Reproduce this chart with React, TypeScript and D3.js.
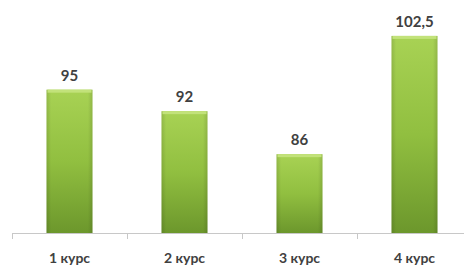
import React, { useEffect, useRef } from 'react'
import * as d3 from 'd3'

const categories = ['1 курс', '2 курс', '3 курс', '4 курс']
const values = [95, 92, 86, 102.5]
const valueLabels = ['95', '92', '86', '102,5']
const yDomain: [number, number] = [75, 105]

const App: React.FC = () => {
  const svgRef = useRef<SVGSVGElement>(null)

  useEffect(() => {
    if (!svgRef.current) return
    const width = 464
    const height = 269
    const axisY = 233

    const svg = d3.select(svgRef.current)
    svg.selectAll('*').remove()

    const x = d3.scaleBand<string>().domain(categories).range([12, 472]).paddingInner(0.6).paddingOuter(0.3)
    const y = d3.scaleLinear().domain(yDomain).range([axisY, 18])

    // Bar gradient
    const defs = svg.append('defs')
    const grad = defs.append('linearGradient').attr('id', 'barGrad').attr('x1', 0).attr('y1', 0).attr('x2', 0).attr('y2', 1)
    grad.append('stop').attr('offset', '0%').attr('stop-color', '#a8d254')
    grad.append('stop').attr('offset', '50%').attr('stop-color', '#91bf40')
    grad.append('stop').attr('offset', '100%').attr('stop-color', '#6c972c')

    const side = defs.append('linearGradient').attr('id', 'sideGrad').attr('x1', 0).attr('y1', 0).attr('x2', 1).attr('y2', 0)
    side.append('stop').attr('offset', '0%').attr('stop-color', '#000').attr('stop-opacity', 0.12)
    side.append('stop').attr('offset', '10%').attr('stop-color', '#000').attr('stop-opacity', 0)
    side.append('stop').attr('offset', '90%').attr('stop-color', '#000').attr('stop-opacity', 0)
    side.append('stop').attr('offset', '100%').attr('stop-color', '#000').attr('stop-opacity', 0.12)

    const bars = svg.append('g')
    bars
      .selectAll('rect.bar')
      .data(values)
      .join('rect')
      .attr('class', 'bar')
      .attr('x', (_, i) => x(categories[i]) ?? 0)
      .attr('y', (d) => y(d))
      .attr('width', x.bandwidth())
      .attr('height', (d) => axisY - y(d))
      .attr('fill', 'url(#barGrad)')

    bars
      .selectAll('rect.side')
      .data(values)
      .join('rect')
      .attr('class', 'side')
      .attr('x', (_, i) => x(categories[i]) ?? 0)
      .attr('y', (d) => y(d))
      .attr('width', x.bandwidth())
      .attr('height', (d) => axisY - y(d))
      .attr('fill', 'url(#sideGrad)')

    // top highlight
    bars
      .selectAll('rect.top')
      .data(values)
      .join('rect')
      .attr('class', 'top')
      .attr('x', (_, i) => (x(categories[i]) ?? 0) + 1)
      .attr('y', (d) => y(d))
      .attr('width', x.bandwidth() - 2)
      .attr('height', 3)
      .attr('fill', '#c2e27a')

    // X axis
    const step = x.step()
    const axis = svg.append('g')
    axis.append('line').attr('x1', 12).attr('x2', width).attr('y1', axisY + 0.5).attr('y2', axisY + 0.5).attr('stroke', '#c8c8c8')
    axis
      .selectAll('line.tick')
      .data(d3.range(categories.length))
      .join('line')
      .attr('class', 'tick')
      .attr('x1', (i) => 12.5 + i * step)
      .attr('x2', (i) => 12.5 + i * step)
      .attr('y1', axisY)
      .attr('y2', axisY + 6)
      .attr('stroke', '#c8c8c8')

    axis
      .selectAll('text')
      .data(categories)
      .join('text')
      .attr('x', (d) => (x(d) ?? 0) + x.bandwidth() / 2)
      .attr('y', 263)
      .attr('text-anchor', 'middle')
      .attr('font-family', 'Lato, sans-serif')
      .attr('font-size', 14)
      .attr('font-weight', 'bold')
      .attr('fill', '#404040')
      .text((d) => d)

    // Value labels
    svg
      .append('g')
      .selectAll('text')
      .data(values)
      .join('text')
      .attr('x', (_, i) => (x(categories[i]) ?? 0) + x.bandwidth() / 2)
      .attr('y', (d) => y(d) - 9)
      .attr('text-anchor', 'middle')
      .attr('font-family', 'Lato, sans-serif')
      .attr('font-size', 15)
      .attr('font-weight', 'bold')
      .attr('fill', '#404040')
      .text((_, i) => valueLabels[i])

    svg.attr('width', width).attr('height', height)
  }, [])

  return (
    <div style={{ position: 'fixed', left: 0, top: 0 }}>
      <svg ref={svgRef} style={{ display: 'block', background: '#fff' }}></svg>
    </div>
  )
}

export default App
